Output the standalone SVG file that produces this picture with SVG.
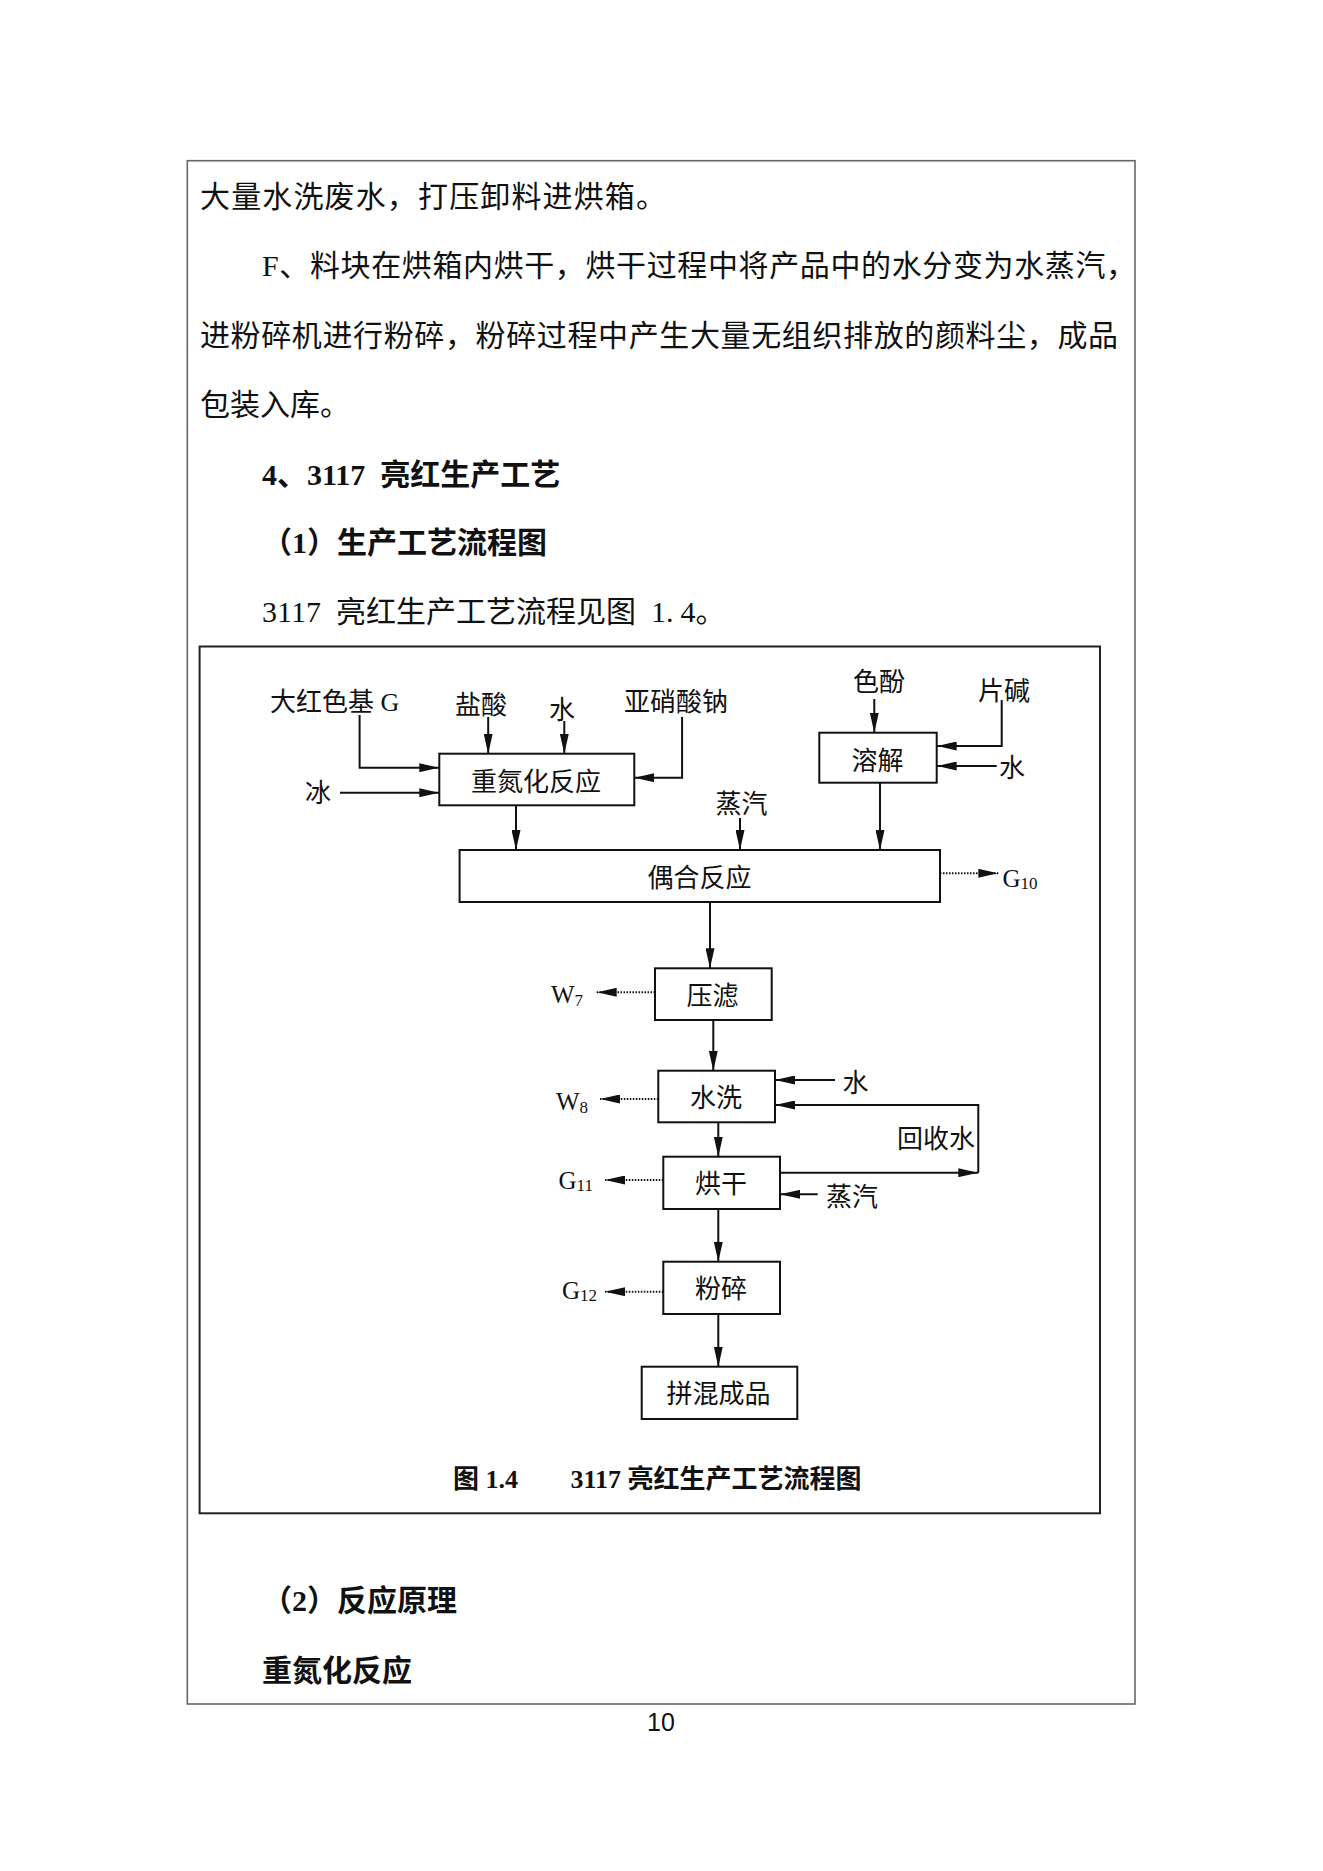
<svg xmlns="http://www.w3.org/2000/svg" width="1323" height="1871" viewBox="0 0 1323 1871">
<style>
.body{font-family:"Liberation Serif","Noto Sans CJK SC",serif;font-size:30px;fill:#111}
.bold{font-weight:bold}
.lbl{font-family:"Liberation Serif","Noto Sans CJK SC",serif;font-size:26px;fill:#111}
.lat{font-family:"Liberation Serif","Noto Sans CJK SC",serif;font-size:25px;fill:#111}
.sub{font-size:17px}
.mid{text-anchor:middle}
.box{fill:#fff;stroke:#111;stroke-width:2}
.ln{fill:none;stroke:#111;stroke-width:2}
.dot{fill:none;stroke:#111;stroke-width:2;stroke-dasharray:1.5 1.5}
.cap{font-family:"Liberation Serif","Noto Sans CJK SC",serif;font-size:26px;font-weight:bold;fill:#111}
</style>
<defs>
<marker id="ah" viewBox="0 0 20 9" refX="20" refY="4.5" markerWidth="20" markerHeight="9" markerUnits="userSpaceOnUse" orient="auto">
<path d="M0,0 L20,4.5 L0,9 Z" fill="#111"/>
</marker>
</defs>
<rect width="1323" height="1871" fill="#fff"/>
<rect x="187.3" y="160.7" width="947.7" height="1543.3" fill="none" stroke="#666" stroke-width="1.6"/>

<g id="page-text">
<text class="body" x="200" y="207" textLength="466" lengthAdjust="spacing">大量水洗废水，打压卸料进烘箱。</text>
<text class="body" x="262" y="276" textLength="874" lengthAdjust="spacing">F、料块在烘箱内烘干，烘干过程中将产品中的水分变为水蒸汽，</text>
<text class="body" x="200" y="346" textLength="918" lengthAdjust="spacing">进粉碎机进行粉碎，粉碎过程中产生大量无组织排放的颜料尘，成品</text>
<text class="body" x="200" y="415">包装入库。</text>
<text class="body bold" x="262" y="485">4、3117&#8194;亮红生产工艺</text>
<text class="body bold" x="262" y="553">（1）生产工艺流程图</text>
<text class="body" x="262" y="622">3117&#8194;亮红生产工艺流程见图&#8194;1.<tspan dx="7">4</tspan>。</text>
<text class="body bold" x="262" y="1611">（2）反应原理</text>
<text class="body bold" x="262" y="1681">重氮化反应</text>
<text x="661" y="1731" text-anchor="middle" font-family="Liberation Sans, Arial, sans-serif" font-size="25" fill="#111">10</text>
</g>

<rect id="figure-frame" x="199.6" y="646.5" width="900.4" height="866.8" fill="none" stroke="#222" stroke-width="2"/>

<g id="connectors">
<path class="ln" d="M359.6,715 V767.7 H439.3" marker-end="url(#ah)"/>
<path class="ln" d="M340,792.7 H439.3" marker-end="url(#ah)"/>
<path class="ln" d="M488.2,717 V753.7" marker-end="url(#ah)"/>
<path class="ln" d="M564.3,721 V753.7" marker-end="url(#ah)"/>
<path class="ln" d="M682.1,717 V777.7 H634.3" marker-end="url(#ah)"/>
<path class="ln" d="M516,805.3 V850" marker-end="url(#ah)"/>
<path class="ln" d="M740,818 V850" marker-end="url(#ah)"/>
<path class="ln" d="M874.3,699 V732.7" marker-end="url(#ah)"/>
<path class="ln" d="M1001.7,700 V746 H936.7" marker-end="url(#ah)"/>
<path class="ln" d="M996.7,766 H936.7" marker-end="url(#ah)"/>
<path class="ln" d="M880,782.7 V850" marker-end="url(#ah)"/>
<path class="dot" d="M940,873.3 H998.3" marker-end="url(#ah)"/>
<path class="ln" d="M710,902 V968.3" marker-end="url(#ah)"/>
<path class="dot" d="M655,992.3 H596.7" marker-end="url(#ah)"/>
<path class="ln" d="M713.3,1020 V1070.7" marker-end="url(#ah)"/>
<path class="ln" d="M835,1080 H775" marker-end="url(#ah)"/>
<path class="ln" d="M780,1172.7 H978.3" marker-end="url(#ah)"/>
<path class="ln" d="M978.3,1172.7 V1105 H775" marker-end="url(#ah)"/>
<path class="dot" d="M658.3,1099 H600" marker-end="url(#ah)"/>
<path class="ln" d="M718.3,1122.3 V1156.7" marker-end="url(#ah)"/>
<path class="dot" d="M663.3,1180 H605" marker-end="url(#ah)"/>
<path class="ln" d="M817.7,1194.3 H780" marker-end="url(#ah)"/>
<path class="ln" d="M718.3,1209 V1261.7" marker-end="url(#ah)"/>
<path class="dot" d="M663.3,1291.7 H605" marker-end="url(#ah)"/>
<path class="ln" d="M718.3,1314 V1366.7" marker-end="url(#ah)"/>
</g>

<g id="n-diazo"><rect class="box" x="439.3" y="753.7" width="195" height="51.6"/><text class="lbl mid" x="536" y="791">重氮化反应</text></g>
<g id="n-dissolve"><rect class="box" x="819.3" y="732.7" width="117.4" height="50"/><text class="lbl mid" x="877.5" y="770">溶解</text></g>
<g id="n-coupling"><rect class="box" x="459.6" y="850" width="480.4" height="52"/><text class="lbl mid" x="699.5" y="886.5">偶合反应</text></g>
<g id="n-filter"><rect class="box" x="655" y="968.3" width="116.7" height="51.7"/><text class="lbl mid" x="712.5" y="1004.5">压滤</text></g>
<g id="n-wash"><rect class="box" x="658.3" y="1070.7" width="116.7" height="51.6"/><text class="lbl mid" x="716" y="1106.5">水洗</text></g>
<g id="n-dry"><rect class="box" x="663.3" y="1156.7" width="116.7" height="52.3"/><text class="lbl mid" x="721" y="1193">烘干</text></g>
<g id="n-crush"><rect class="box" x="663.3" y="1261.7" width="116.7" height="52.3"/><text class="lbl mid" x="721" y="1298">粉碎</text></g>
<g id="n-blend"><rect class="box" x="641.7" y="1366.7" width="155.6" height="52.3"/><text class="lbl mid" x="718.5" y="1403">拼混成品</text></g>

<g id="inputs">
<text class="lbl" x="270" y="711">大红色基 G</text>
<text class="lbl mid" x="481" y="713.5">盐酸</text>
<text class="lbl mid" x="562" y="719">水</text>
<text class="lbl mid" x="676" y="710.5">亚硝酸钠</text>
<text class="lbl mid" x="318" y="802">冰</text>
<text class="lbl mid" x="879" y="690.5">色酚</text>
<text class="lbl mid" x="1004" y="700">片碱</text>
<text class="lbl mid" x="1012" y="776.5">水</text>
<text class="lbl mid" x="741.5" y="813">蒸汽</text>
<text class="lbl mid" x="855.5" y="1091.5">水</text>
<text class="lbl mid" x="936" y="1148">回收水</text>
<text class="lbl mid" x="852" y="1206">蒸汽</text>
</g>

<g id="outputs">
<text class="lat" x="1002.5" y="886.7">G<tspan class="sub" dy="2">10</tspan></text>
<text class="lat" x="551" y="1002.7">W<tspan class="sub" dy="3">7</tspan></text>
<text class="lat" x="556" y="1110">W<tspan class="sub" dy="3">8</tspan></text>
<text class="lat" x="558.5" y="1189">G<tspan class="sub" dy="2">11</tspan></text>
<text class="lat" x="562" y="1299.3">G<tspan class="sub" dy="2">12</tspan></text>
</g>

<g id="caption">
<text class="cap" x="453" y="1488">图 1.4</text>
<text class="cap" x="570.5" y="1488">3117 亮红生产工艺流程图</text>
</g>
</svg>
